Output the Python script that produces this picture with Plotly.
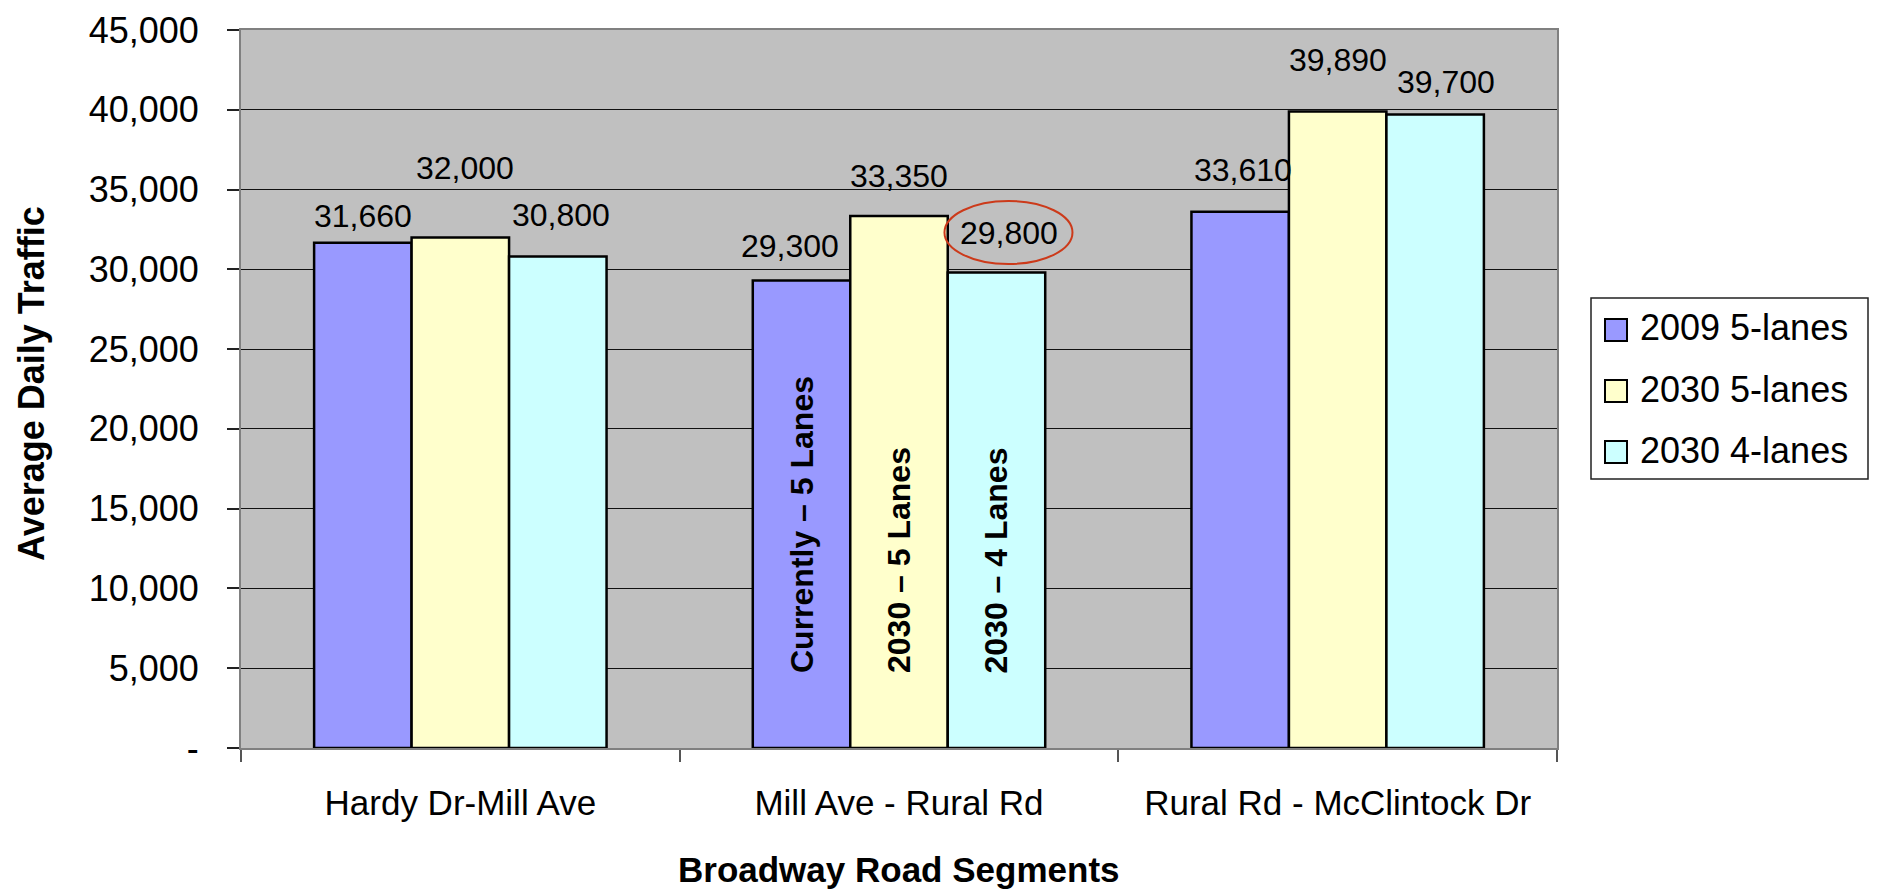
import plotly.graph_objects as go

# ---------------- data ----------------
categories = ["Hardy Dr-Mill Ave", "Mill Ave - Rural Rd", "Rural Rd - McClintock Dr"]
series_names = ["2009 5-lanes", "2030 5-lanes", "2030 4-lanes"]
values_2009_5 = [31660, 29300, 33610]
values_2030_5 = [32000, 33350, 39890]
values_2030_4 = [30800, 29800, 39700]
series_values = [values_2009_5, values_2030_5, values_2030_4]
bar_notes = ["Currently \u2013 5 Lanes", "2030 \u2013 5 Lanes", "2030 \u2013 4 Lanes"]
note_category_index = 1
highlight_category_index = 1
highlight_series_index = 2
y_tickvals = [0, 5000, 10000, 15000, 20000, 25000, 30000, 35000, 40000, 45000]
y_ticktext = ["-", "5,000", "10,000", "15,000", "20,000", "25,000", "30,000",
              "35,000", "40,000", "45,000"]
x_title = "Broadway Road Segments"
y_title = "Average Daily Traffic"

# ---------------- style ----------------
colors = ["#9999FF", "#FFFFCC", "#CCFFFF"]
FONT = "Arial, 'Liberation Sans', sans-serif"
OFF = 8  # default page body margin
W, H = 1879 - OFF, 889 - OFF
# plot area in screen pixels
PX0, PX1, PY0, PY1 = 241, 1557, 30, 748
ML, MT = PX0 - OFF, PY0 - OFF
MR = (W + OFF) - PX1
MB = (H + OFF) - PY1
PW, PH = PX1 - PX0, PY1 - PY0
BARGAP = 1 / 3
# label offsets (pixels) above bar tops, per series then category
label_dy = [[27, 35, 42], [69, 40, 52], [42, 40, 33]]
label_dx = [[0, -12, 3], [5, 0, 0], [3, 13, 11]]


def px_x(px):
    return (px - PX0) / PW


def px_y(py):
    return (PY1 - py) / PH


fig = go.Figure()
n_series = len(series_names)
bar_w = (1 - BARGAP) / n_series

for j, (name, vals) in enumerate(zip(series_names, series_values)):
    fig.add_trace(go.Bar(
        x=categories, y=vals, name=name,
        marker=dict(color=colors[j], line=dict(color="black", width=2.5)),
        showlegend=False,
    ))

annotations = []
# value labels
for j, vals in enumerate(series_values):
    for i, v in enumerate(vals):
        annotations.append(dict(
            x=i + (j - (n_series - 1) / 2) * bar_w, y=v, xref="x", yref="y",
            text=f"{v:,}", showarrow=False, yanchor="middle", xanchor="center",
            yshift=label_dy[j][i], xshift=label_dx[j][i],
            font=dict(family=FONT, size=32, color="black"),
        ))
# vertical notes inside bars of the middle category
for j, note in enumerate(bar_notes):
    annotations.append(dict(
        x=note_category_index + (j - (n_series - 1) / 2) * bar_w, y=0,
        xref="x", yref="y", text=f"<b>{note}</b>", showarrow=False,
        textangle=-90, yanchor="bottom", xanchor="center", yshift=73,
        font=dict(family=FONT, size=32, color="black"),
    ))

shapes = []
# highlight ellipse around one label
hj, hi = highlight_series_index, highlight_category_index
shapes.append(dict(
    type="circle", xref="x", yref="y", xsizemode="pixel", ysizemode="pixel",
    xanchor=hi + (hj - (n_series - 1) / 2) * bar_w,
    yanchor=series_values[hj][hi],
    x0=-64 + 12, x1=64 + 12, y0=40 - 31.5, y1=40 + 31.5,
    line=dict(color="#CC3A1A", width=2),
))

# legend (drawn box)
shapes.append(dict(type="rect", xref="paper", yref="paper",
                   x0=px_x(1591), x1=px_x(1868), y0=px_y(479), y1=px_y(298),
                   line=dict(color="#222222", width=1.5), fillcolor="white",
                   layer="above"))
rows = [328, 389, 450]
for j, name in enumerate(series_names):
    cy = rows[j] + 2
    shapes.append(dict(type="rect", xref="paper", yref="paper",
                       x0=px_x(1605), x1=px_x(1627), y0=px_y(cy + 11), y1=px_y(cy - 11),
                       line=dict(color="black", width=2), fillcolor=colors[j],
                       layer="above"))
    annotations.append(dict(
        x=px_x(1638), y=px_y(rows[j]), xref="paper", yref="paper",
        text=name, showarrow=False, xanchor="left", yanchor="middle",
        font=dict(family=FONT, size=36, color="black"),
    ))

# x axis title
annotations.append(dict(
    x=0.5, y=px_y(869), xref="paper", yref="paper", text=f"<b>{x_title}</b>",
    showarrow=False, xanchor="center", yanchor="middle",
    font=dict(family=FONT, size=35, color="black"),
))
# y axis title
annotations.append(dict(
    x=px_x(31), y=px_y(384), xref="paper", yref="paper", text=f"<b>{y_title}</b>",
    showarrow=False, xanchor="center", yanchor="middle", textangle=-90,
    font=dict(family=FONT, size=36, color="black"),
))

fig.update_layout(
    width=W, height=H, autosize=False,
    margin=dict(l=ML, r=MR, t=MT, b=MB, pad=0),
    paper_bgcolor="white", plot_bgcolor="#C0C0C0",
    barmode="group", bargap=BARGAP, bargroupgap=0,
    showlegend=False,
    annotations=annotations, shapes=shapes,
    font=dict(family=FONT, color="black"),
)
fig.update_xaxes(
    type="category", tickson="boundaries", ticks="outside", ticklen=12,
    tickcolor="#555555", tickwidth=1.5,
    showline=True, linecolor="#808080", linewidth=2, mirror=True,
    showgrid=False, tickfont=dict(family=FONT, size=35, color="black"),
    ticklabelstandoff=23, automargin=False,
)
fig.update_yaxes(
    range=[0, 45000], tickvals=y_tickvals, ticktext=y_ticktext,
    ticks="outside", ticklen=12, tickcolor="#222222", tickwidth=1.5,
    showline=True, linecolor="#808080", linewidth=2, mirror=True,
    showgrid=True, gridcolor="#111111", gridwidth=1, zeroline=False,
    tickfont=dict(family=FONT, size=36, color="black"),
    ticklabelstandoff=21, automargin=False,
)

fig.write_html("out.html", config={"displayModeBar": False})
